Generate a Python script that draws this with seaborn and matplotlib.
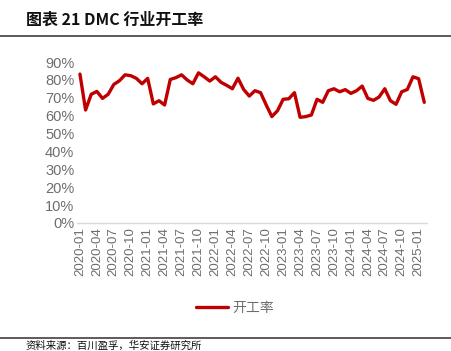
import matplotlib
matplotlib.use('Agg')
import matplotlib.pyplot as plt
import seaborn as sns
import pandas as pd
from matplotlib.ticker import PercentFormatter
from matplotlib.lines import Line2D

sns.set_style('white')
plt.rcParams['font.family'] = ['Noto Sans CJK SC', 'DejaVu Sans']

# monthly operating rate, 2020-01 .. 2025-02 (%)
months = pd.period_range('2020-01', '2025-02', freq='M').strftime('%Y-%m').tolist()
rate = [83.3, 63.2, 72.0, 73.6, 69.7, 72.0, 77.5, 79.6, 82.9, 82.4,
        80.9, 77.9, 80.9, 66.6, 68.4, 66.0, 80.3, 81.3, 82.9, 80.0,
        77.9, 84.0, 81.8, 79.4, 81.8, 78.7, 77.0, 75.1, 81.0, 74.7,
        71.0, 74.0, 72.9, 66.0, 59.5, 62.8, 69.2, 69.5, 72.9, 59.1,
        59.5, 60.4, 69.2, 67.5, 74.0, 75.1, 73.4, 74.6, 72.5, 74.0,
        76.6, 69.7, 68.6, 70.5, 75.1, 68.4, 66.4, 73.4, 74.7, 81.8,
        80.7, 67.5]
yticks = list(range(0, 91, 10))

df = pd.DataFrame({'idx': range(len(months)), 'month': months, 'rate': rate})

red = '#C00000'
grey = '#6E6E6E'

fig = plt.figure(figsize=(4.51, 3.51), dpi=100)
ax = fig.add_axes([0.171, 0.365, 0.776, 0.458])

sns.lineplot(data=df, x='idx', y='rate', color=red, linewidth=2.4, ax=ax, legend=False)

ax.set_ylim(0, 90)
ax.set_yticks(yticks)
ax.yaxis.set_major_formatter(PercentFormatter(decimals=0))
ax.set_xlim(-0.5, len(months) - 0.5)
ax.set_xticks(df['idx'][::3])
ax.set_xticklabels(df['month'][::3], rotation=90)
ax.tick_params(axis='y', labelsize=10.5, labelcolor=grey, length=0, pad=2)
ax.tick_params(axis='x', labelsize=9.5, labelcolor=grey, length=0, pad=3)
for lab in ax.get_xticklabels() + ax.get_yticklabels():
    lab.set_family(['Liberation Sans', 'DejaVu Sans'])
ax.set_xlabel('')
ax.set_ylabel('')
for s in ['top', 'right', 'left']:
    ax.spines[s].set_visible(False)
ax.spines['bottom'].set_color('#D9D9D9')
ax.spines['bottom'].set_linewidth(1.0)

# legend
handle = Line2D([], [], color=red, linewidth=2.4)
fig.legend([handle], ['开工率'], loc='center', bbox_to_anchor=(0.52, 1 - 308 / 351),
           frameon=False, fontsize=10, handlelength=2.3, handletextpad=0.3,
           labelcolor=grey)

# title + rules
fig.text(0.057, 1 - 20 / 351, '图表 21 DMC 行业开工率', fontsize=11.5, fontweight='bold',
         va='center', ha='left', color='#111111')
fig.add_artist(Line2D([0, 1], [1 - 36 / 351] * 2, color='#404040', linewidth=1.2))
fig.add_artist(Line2D([0, 1], [1 - 338 / 351] * 2, color='#404040', linewidth=1.2))
fig.text(0.057, 1 - 340 / 351, '资料来源：百川盈孚，华安证券研究所', fontsize=7.5,
         va='top', ha='left', color='#111111')

fig.savefig('out.png', dpi=100)
